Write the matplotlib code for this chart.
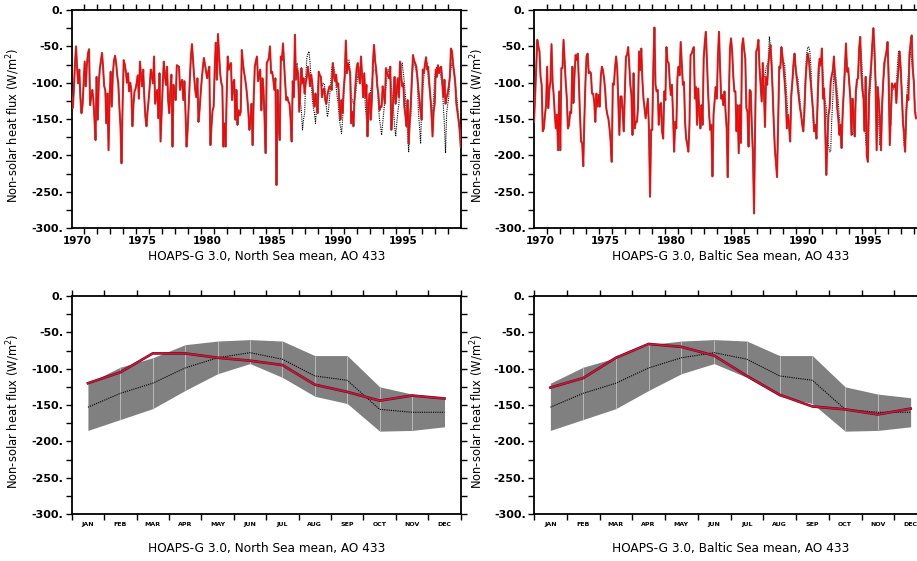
import numpy as np
import matplotlib.pyplot as plt
from matplotlib.ticker import MultipleLocator, FixedLocator, FuncFormatter

plt.rcParams['axes.unicode_minus'] = False
plt.rcParams['font.family'] = 'DejaVu Sans'

# --- monthly time series, Jan 1970 .. Dec 1999 (North Sea) ---
north_red = [
    -121, -135, -110, -75, -50, -80, -101, -82, -120, -142, -131, -100,
    -71, -105, -75, -60, -54, -131, -118, -110, -124, -150, -179, -92,
    -151, -100, -80, -70, -59, -80, -105, -110, -156, -115, -193, -120,
    -85, -133, -87, -70, -63, -73, -90, -101, -133, -160, -211, -129,
    -69, -75, -85, -100, -87, -112, -100, -110, -160, -130, -112, -108,
    -100, -90, -122, -71, -90, -105, -82, -120, -147, -160, -140, -124,
    -105, -82, -90, -101, -64, -129, -115, -110, -149, -87, -181, -140,
    -103, -71, -90, -103, -78, -124, -142, -110, -89, -188, -103, -115,
    -124, -76, -77, -78, -110, -100, -96, -124, -98, -140, -188, -165,
    -130, -96, -64, -47, -70, -92, -110, -120, -94, -154, -138, -115,
    -96, -80, -66, -75, -85, -94, -85, -78, -186, -160, -138, -133,
    -80, -45, -96, -33, -60, -87, -100, -105, -188, -156, -188, -120,
    -64, -82, -76, -73, -124, -100, -96, -151, -110, -158, -138, -145,
    -140, -55, -73, -85, -94, -105, -120, -140, -165, -150, -129, -186,
    -120, -78, -70, -64, -98, -90, -82, -138, -94, -110, -150, -197,
    -73, -70, -66, -50, -87, -85, -95, -110, -94, -241, -110, -150,
    -179, -64, -69, -46, -73, -100, -124, -120, -126, -129, -150, -181,
    -98, -120, -34, -96, -80, -89, -140, -110, -80, -101, -94, -115,
    -100, -92, -78, -90, -105, -89, -100, -120, -133, -115, -130, -142,
    -85, -90, -92, -120, -110, -108, -124, -129, -117, -110, -105, -108,
    -110, -73, -90, -98, -89, -105, -101, -130, -151, -124, -142, -110,
    -90, -42, -87, -73, -80, -87, -156, -140, -160, -124, -100, -80,
    -73, -90, -101, -64, -90, -120, -87, -120, -103, -174, -130, -115,
    -151, -124, -73, -48, -70, -82, -105, -115, -138, -133, -133, -105,
    -115, -129, -80, -87, -90, -94, -78, -165, -140, -120, -92, -129,
    -110, -94, -120, -71, -90, -105, -101, -133, -145, -160, -124, -184,
    -150, -129, -92, -62, -70, -73, -78, -92, -110, -124, -140, -151,
    -82, -87, -75, -65, -82, -78, -101, -120, -138, -174, -140, -129,
    -82, -92, -76, -87, -80, -78, -100, -120, -96, -129, -120, -115,
    -105, -92, -53, -57, -75, -87, -101, -129, -140, -151, -165, -188,
]
# reference series, Jan 1987 .. Dec 1999
north_ref = [
    -100, -95, -96, -80, -73, -90, -105, -124, -140, -165, -150, -142,
    -92, -66, -60, -57, -73, -96, -120, -135, -142, -156, -133, -105,
    -89, -90, -92, -105, -101, -101, -112, -133, -147, -138, -120, -101,
    -80, -73, -80, -87, -105, -120, -129, -151, -160, -170, -151, -120,
    -95, -82, -69, -69, -69, -87, -120, -124, -129, -125, -115, -101,
    -90, -78, -87, -82, -90, -96, -96, -133, -150, -165, -151, -124,
    -110, -101, -85, -83, -82, -88, -92, -129, -150, -160, -172, -156,
    -140, -124, -105, -94, -82, -85, -87, -105, -120, -138, -160, -174,
    -156, -140, -129, -92, -80, -73, -87, -100, -120, -151, -170, -195,
    -160, -147, -96, -80, -73, -76, -85, -96, -142, -160, -184, -133,
    -110, -92, -78, -75, -73, -92, -105, -120, -151, -140, -124, -92,
    -85, -78, -82, -87, -85, -95, -105, -133, -160, -197, -142, -130,
    -120, -92, -80, -73, -78, -82, -101, -115, -129, -151, -158, -165,
]

# --- Baltic Sea, Jan 1970 .. Feb 1999 (rest lies outside the picture) ---
baltic_red = [
    -154, -120, -80, -41, -50, -57, -92, -103, -167, -163, -145, -131,
    -78, -135, -110, -99, -47, -99, -117, -144, -163, -144, -193, -112,
    -193, -80, -80, -41, -71, -100, -122, -163, -158, -140, -142, -78,
    -128, -90, -62, -69, -60, -99, -144, -181, -183, -215, -150, -99,
    -64, -60, -87, -85, -87, -115, -115, -126, -154, -115, -133, -117,
    -133, -92, -78, -83, -94, -110, -135, -144, -150, -163, -181, -209,
    -101, -103, -80, -64, -80, -124, -172, -119, -119, -140, -167, -112,
    -64, -62, -51, -75, -103, -117, -172, -87, -163, -154, -154, -135,
    -57, -83, -53, -96, -122, -135, -149, -135, -122, -163, -257, -165,
    -165, -78, -24, -103, -112, -110, -158, -131, -128, -167, -177, -112,
    -124, -51, -71, -73, -99, -117, -103, -144, -195, -154, -163, -94,
    -78, -90, -44, -73, -103, -99, -154, -177, -185, -195, -158, -62,
    -60, -55, -51, -122, -106, -158, -108, -140, -163, -131, -158, -67,
    -45, -30, -71, -112, -144, -165, -158, -229, -144, -124, -106, -122,
    -64, -30, -80, -122, -117, -131, -112, -140, -163, -230, -122, -53,
    -39, -57, -90, -112, -112, -167, -131, -197, -131, -183, -51, -39,
    -55, -67, -135, -140, -188, -110, -112, -160, -200, -280, -158, -57,
    -53, -41, -80, -103, -126, -73, -110, -161, -92, -103, -76, -60,
    -48, -76, -112, -154, -190, -210, -230, -158, -78, -80, -51, -64,
    -80, -99, -122, -163, -144, -160, -181, -117, -99, -75, -60, -80,
    -94, -108, -122, -135, -144, -158, -167, -140, -99, -75, -60, -67,
    -85, -103, -120, -140, -167, -158, -177, -126, -80, -67, -76, -53,
    -122, -108, -163, -227, -180, -144, -135, -99, -90, -83, -64, -94,
    -108, -135, -150, -172, -158, -190, -140, -112, -80, -46, -85, -80,
    -100, -122, -172, -122, -150, -174, -112, -96, -94, -53, -37, -85,
    -110, -122, -167, -92, -200, -209, -117, -95, -76, -48, -25, -53,
    -99, -193, -106, -126, -150, -193, -131, -99, -73, -65, -57, -44,
    -99, -186, -144, -101, -106, -106, -101, -128, -99, -80, -57, -80,
    -117, -154, -170, -195, -144, -117, -124, -60, -46, -35, -80, -99,
    -140, -149,
]
# reference series, Mar 1987 .. Feb 1999
baltic_ref = [
    -78, -95, -108, -99, -94, -90, -80, -75, -71, -37,
    -50, -62, -112, -158, -195, -210, -222, -158, -90, -76, -71, -67,
    -70, -76, -99, -122, -149, -160, -167, -126, -99, -76, -64, -76,
    -90, -94, -112, -126, -144, -155, -167, -126, -90, -62, -51, -51,
    -57, -80, -122, -154, -163, -163, -172, -140, -99, -80, -69, -69,
    -85, -115, -125, -135, -160, -186, -195, -195, -150, -122, -76, -85,
    -95, -115, -126, -150, -163, -172, -144, -110, -90, -57, -75, -85,
    -99, -120, -144, -172, -167, -140, -122, -105, -90, -60, -48, -60,
    -90, -120, -144, -181, -190, -200, -144, -110, -90, -48, -35, -67,
    -95, -122, -140, -158, -186, -172, -126, -100, -85, -67, -55, -48,
    -80, -149, -158, -112, -110, -106, -107, -108, -76, -57, -71, -90,
    -108, -144, -186, -195, -135, -108, -90, -67, -57, -71, -85, -103,
    -135, -144,
]
north_ref_start = 204   # month index of Jan 1987
baltic_ref_start = 206  # month index of Mar 1987

# --- mean seasonal cycle ---
month_names = ['JAN', 'FEB', 'MAR', 'APR', 'MAY', 'JUN',
               'JUL', 'AUG', 'SEP', 'OCT', 'NOV', 'DEC']
clim_mean = [-153, -134, -120, -99, -85, -78, -87, -110, -116, -156, -160, -160]
clim_upper = [-120, -98, -85, -67, -62, -60, -62, -82, -82, -125, -135, -140]
clim_lower = [-185, -170, -155, -130, -107, -93, -112, -138, -148, -186, -185, -180]
north_cycle = [-120, -105, -79, -79, -85, -89, -95, -122, -132, -144, -137, -141]
baltic_cycle = [-126, -113, -85, -66, -70, -82, -110, -136, -152, -156, -163, -155]

label_north = 'HOAPS-G 3.0, North Sea mean, AO 433'
label_baltic = 'HOAPS-G 3.0, Baltic Sea mean, AO 433'
ylabel = 'Non-solar heat flux (W/m$^2$)'


def month_time(n, start=0):
    return 1970 + (np.arange(start, start + n) + 0.5) / 12.0


def style_y(ax):
    ax.set_ylim(-300, 0)
    ax.yaxis.set_major_locator(MultipleLocator(50))
    ax.yaxis.set_minor_locator(MultipleLocator(25))
    ax.yaxis.set_major_formatter(FuncFormatter(lambda v, _: f'{int(round(v))}.'))
    ax.tick_params(axis='y', which='both', direction='out', length=4, width=1.0,
                   left=True, right=True, labelsize=8, pad=2)
    for lab in ax.get_yticklabels():
        lab.set_fontweight('bold')
    for s in ax.spines.values():
        s.set_linewidth(1.3)
    ax.set_ylabel(ylabel, fontsize=8.3)


def style_time(ax, label):
    ax.set_xlim(1970 + 0.5 / 12, 2000 - 0.5 / 12)
    ax.xaxis.set_major_locator(FixedLocator([y + 0.5 for y in range(1970, 2000, 5)]))
    ax.xaxis.set_major_formatter(FuncFormatter(lambda v, _: f'{int(v)}'))
    ax.xaxis.set_minor_locator(FixedLocator(list(range(1971, 2000))))
    ax.tick_params(axis='x', which='major', length=0, labelsize=7.5, pad=6)
    ax.tick_params(axis='x', which='minor', direction='out', length=4, width=1.0,
                   top=True, bottom=True)
    for lab in ax.get_xticklabels():
        lab.set_fontweight('bold')
    style_y(ax)
    ax.text(0.5, -0.133, label, transform=ax.transAxes, ha='center', va='center',
            fontsize=8.7)


def style_cycle(ax, label):
    ax.set_xlim(0, 12)
    xm = np.arange(12) + 0.5
    ax.set_xticks(xm)
    ax.set_xticklabels(month_names, fontsize=4.5, fontweight='bold')
    ax.xaxis.set_minor_locator(FixedLocator(list(range(13))))
    ax.tick_params(axis='x', which='major', length=0, pad=6)
    ax.tick_params(axis='x', which='minor', direction='out', length=4, width=1.0,
                   top=True, bottom=True)
    style_y(ax)
    ax.text(0.5, -0.16, label, transform=ax.transAxes, ha='center', va='center',
            fontsize=8.7)


def draw_series(ax, red, ref, ref_start):
    t = month_time(len(red))
    tr = month_time(len(ref), ref_start)
    ax.plot(tr, ref, color='black', lw=0.8, ls=(0, (1, 1)), zorder=2)
    ax.plot(t, red, color='#a05050', lw=1.5, zorder=3)
    ax.plot(t, red, color='#ff0000', lw=0.8, zorder=4)


def draw_cycle(ax, cycle):
    xm = np.arange(12) + 0.5
    ax.fill_between(xm, clim_lower, clim_upper, color='#808080', lw=0, zorder=1)
    ax.vlines(xm[1:-1], np.array(clim_lower)[1:-1], np.array(clim_upper)[1:-1],
              color='#c4c4c4', lw=0.6, zorder=2)
    ax.plot(xm, clim_mean, color='black', lw=0.8, ls=(0, (1, 1)), zorder=3)
    ax.plot(xm, cycle, color='#5a1020', lw=1.9, zorder=4)
    ax.plot(xm, cycle, color='#d8103a', lw=1.1, zorder=5)


fig = plt.figure(figsize=(9.17, 5.61), dpi=100)
W, H = 917.0, 561.0
ax1 = fig.add_axes([71.7 / W, 1 - 228 / H, 389 / W, 218 / H])
ax2 = fig.add_axes([534 / W, 1 - 228 / H, 393 / W, 218 / H])
ax3 = fig.add_axes([71.7 / W, 1 - 514 / H, 389 / W, 218 / H])
ax4 = fig.add_axes([534 / W, 1 - 514 / H, 393 / W, 218 / H])

draw_series(ax1, north_red, north_ref, north_ref_start)
draw_series(ax2, baltic_red, baltic_ref, baltic_ref_start)
style_time(ax1, label_north)
style_time(ax2, label_baltic)

draw_cycle(ax3, north_cycle)
draw_cycle(ax4, baltic_cycle)
style_cycle(ax3, label_north)
style_cycle(ax4, label_baltic)

for ax in (ax1, ax3):
    ax.yaxis.set_label_coords(-0.128, 0.47)
for ax in (ax2, ax4):
    ax.yaxis.set_label_coords(-0.122, 0.47)

fig.savefig('out.png', dpi=100)
